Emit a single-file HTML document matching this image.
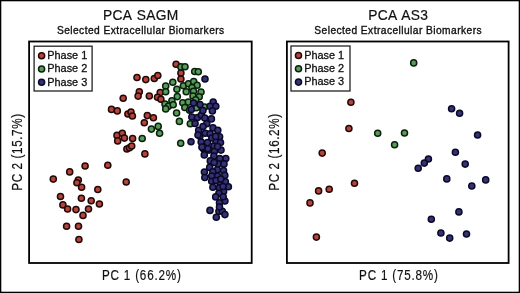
<!DOCTYPE html>
<html><head><meta charset="utf-8">
<style>
html,body{margin:0;padding:0;background:#fff;}
body{width:520px;height:293px;overflow:hidden;}
svg{display:block;will-change:transform;}
text{font-family:"Liberation Sans",sans-serif;fill:#111;stroke:#111;stroke-width:0.2px;}
</style></head><body>
<svg width="520" height="293" viewBox="0 0 520 293">
<rect x="0.65" y="0.65" width="518.7" height="291.7" fill="#fff" stroke="#000" stroke-width="1.3"/>
<text x="140.8" y="20.4" font-size="13.8" text-anchor="middle" letter-spacing="0.3" word-spacing="1">PCA SAGM</text>
<text x="140.8" y="33.8" font-size="10.2" text-anchor="middle" letter-spacing="0.45" style="stroke-width:0.35px">Selected Extracellular Biomarkers</text>
<text x="398.2" y="20.4" font-size="13.8" text-anchor="middle" letter-spacing="0.3" word-spacing="1">PCA AS3</text>
<text x="398.2" y="33.8" font-size="10.2" text-anchor="middle" letter-spacing="0.45" style="stroke-width:0.35px">Selected Extracellular Biomarkers</text>
<rect x="29.1" y="41.5" width="222.6" height="221.5" fill="none" stroke="#000" stroke-width="1.8"/>
<rect x="286.9" y="41.5" width="221.7" height="221.5" fill="none" stroke="#000" stroke-width="1.8"/>
<text transform="translate(141.8,280.3) scale(0.8,1)" font-size="14.6" letter-spacing="1" text-anchor="middle">PC 1 (66.2%)</text>
<text transform="translate(398.9,280.3) scale(0.8,1)" font-size="14.6" letter-spacing="1" text-anchor="middle">PC 1 (75.8%)</text>
<text transform="translate(21.7,152.0) rotate(-90) scale(0.76,1)" font-size="15.4" letter-spacing="0.8" text-anchor="middle">PC 2 (15.7%)</text>
<text transform="translate(279.4,152.0) rotate(-90) scale(0.76,1)" font-size="15.4" letter-spacing="0.8" text-anchor="middle">PC 2 (16.2%)</text>
<g fill="#b5443a" stroke="#220808" stroke-width="1.5">
<circle cx="85.1" cy="166.0" r="3.05"/>
<circle cx="69.7" cy="171.9" r="3.05"/>
<circle cx="53.3" cy="179.1" r="3.05"/>
<circle cx="78.3" cy="180.1" r="3.05"/>
<circle cx="76.9" cy="182.8" r="3.05"/>
<circle cx="81.6" cy="187.3" r="3.05"/>
<circle cx="97.8" cy="189.5" r="3.05"/>
<circle cx="60.5" cy="196.5" r="3.05"/>
<circle cx="81.4" cy="198.3" r="3.05"/>
<circle cx="91.2" cy="200.8" r="3.05"/>
<circle cx="62.9" cy="204.9" r="3.05"/>
<circle cx="99.4" cy="204.0" r="3.05"/>
<circle cx="67.6" cy="209.0" r="3.05"/>
<circle cx="76.0" cy="209.6" r="3.05"/>
<circle cx="88.5" cy="209.0" r="3.05"/>
<circle cx="83.0" cy="215.4" r="3.05"/>
<circle cx="66.6" cy="226.2" r="3.05"/>
<circle cx="78.5" cy="226.2" r="3.05"/>
<circle cx="78.9" cy="239.5" r="3.05"/>
<circle cx="107.8" cy="165.2" r="3.05"/>
<circle cx="126.2" cy="182.0" r="3.05"/>
<circle cx="144.9" cy="153.9" r="3.05"/>
<circle cx="126.9" cy="149.0" r="3.05"/>
<circle cx="129.5" cy="147.7" r="3.05"/>
<circle cx="131.7" cy="146.0" r="3.05"/>
<circle cx="117.0" cy="135.4" r="3.05"/>
<circle cx="122.3" cy="133.2" r="3.05"/>
<circle cx="124.4" cy="138.1" r="3.05"/>
<circle cx="117.7" cy="140.9" r="3.05"/>
<circle cx="132.6" cy="138.5" r="3.05"/>
<circle cx="144.3" cy="122.8" r="3.05"/>
<circle cx="153.4" cy="117.8" r="3.05"/>
<circle cx="147.3" cy="115.6" r="3.05"/>
<circle cx="111.5" cy="109.4" r="3.05"/>
<circle cx="117.3" cy="110.9" r="3.05"/>
<circle cx="127.9" cy="114.0" r="3.05"/>
<circle cx="131.0" cy="112.1" r="3.05"/>
<circle cx="132.4" cy="116.0" r="3.05"/>
<circle cx="123.2" cy="98.2" r="3.05"/>
<circle cx="139.3" cy="91.8" r="3.05"/>
<circle cx="138.1" cy="96.1" r="3.05"/>
<circle cx="149.3" cy="96.0" r="3.05"/>
<circle cx="137.0" cy="77.5" r="3.05"/>
<circle cx="145.8" cy="79.6" r="3.05"/>
<circle cx="154.3" cy="78.5" r="3.05"/>
<circle cx="157.8" cy="75.5" r="3.05"/>
<circle cx="160.2" cy="92.6" r="3.05"/>
<circle cx="157.5" cy="97.3" r="3.05"/>
<circle cx="160.9" cy="99.3" r="3.05"/>
<circle cx="176.1" cy="64.3" r="3.05"/>
<circle cx="180.9" cy="73.1" r="3.05"/>
<circle cx="180.9" cy="79.0" r="3.05"/>
</g>
<g fill="#589c5c" stroke="#0a200c" stroke-width="1.5">
<circle cx="180.9" cy="66.9" r="3.05"/>
<circle cx="185.0" cy="66.7" r="3.05"/>
<circle cx="194.7" cy="71.5" r="3.05"/>
<circle cx="198.3" cy="71.8" r="3.05"/>
<circle cx="172.8" cy="82.3" r="3.05"/>
<circle cx="165.7" cy="86.1" r="3.05"/>
<circle cx="165.7" cy="91.7" r="3.05"/>
<circle cx="176.9" cy="89.2" r="3.05"/>
<circle cx="183.4" cy="85.7" r="3.05"/>
<circle cx="188.5" cy="83.7" r="3.05"/>
<circle cx="193.7" cy="81.6" r="3.05"/>
<circle cx="197.1" cy="85.3" r="3.05"/>
<circle cx="192.0" cy="87.5" r="3.05"/>
<circle cx="186.2" cy="91.8" r="3.05"/>
<circle cx="201.0" cy="92.0" r="3.05"/>
<circle cx="193.5" cy="91.3" r="3.05"/>
<circle cx="193.0" cy="96.0" r="3.05"/>
<circle cx="199.2" cy="96.7" r="3.05"/>
<circle cx="177.3" cy="96.6" r="3.05"/>
<circle cx="171.9" cy="100.7" r="3.05"/>
<circle cx="165.0" cy="104.1" r="3.05"/>
<circle cx="168.4" cy="106.2" r="3.05"/>
<circle cx="173.2" cy="104.8" r="3.05"/>
<circle cx="165.7" cy="108.9" r="3.05"/>
<circle cx="176.6" cy="113.0" r="3.05"/>
<circle cx="182.8" cy="102.8" r="3.05"/>
<circle cx="188.3" cy="102.1" r="3.05"/>
<circle cx="184.8" cy="107.5" r="3.05"/>
<circle cx="189.6" cy="110.3" r="3.05"/>
<circle cx="196.3" cy="107.7" r="3.05"/>
<circle cx="204.6" cy="107.0" r="3.05"/>
<circle cx="195.7" cy="99.8" r="3.05"/>
<circle cx="179.4" cy="121.4" r="3.05"/>
<circle cx="190.3" cy="123.7" r="3.05"/>
<circle cx="158.2" cy="126.4" r="3.05"/>
<circle cx="151.4" cy="129.1" r="3.05"/>
<circle cx="159.6" cy="133.2" r="3.05"/>
<circle cx="142.2" cy="138.5" r="3.05"/>
<circle cx="180.7" cy="143.3" r="3.05"/>
</g>
<g fill="#343276" stroke="#0b0926" stroke-width="1.5">
<circle cx="205.0" cy="79.0" r="3.05"/>
<circle cx="193.6" cy="103.0" r="3.05"/>
<circle cx="200.0" cy="104.6" r="3.05"/>
<circle cx="191.3" cy="109.4" r="3.05"/>
<circle cx="191.8" cy="117.0" r="3.05"/>
<circle cx="197.5" cy="117.5" r="3.05"/>
<circle cx="195.1" cy="123.5" r="3.05"/>
<circle cx="213.2" cy="102.0" r="3.05"/>
<circle cx="210.0" cy="106.2" r="3.05"/>
<circle cx="215.8" cy="106.2" r="3.05"/>
<circle cx="212.4" cy="110.9" r="3.05"/>
<circle cx="201.4" cy="115.1" r="3.05"/>
<circle cx="204.8" cy="118.0" r="3.05"/>
<circle cx="211.4" cy="118.9" r="3.05"/>
<circle cx="206.8" cy="123.7" r="3.05"/>
<circle cx="202.9" cy="110.6" r="3.05"/>
<circle cx="213.0" cy="127.9" r="3.05"/>
<circle cx="217.8" cy="130.3" r="3.05"/>
<circle cx="198.7" cy="130.3" r="3.05"/>
<circle cx="205.3" cy="133.3" r="3.05"/>
<circle cx="210.1" cy="133.9" r="3.05"/>
<circle cx="199.9" cy="136.3" r="3.05"/>
<circle cx="211.8" cy="138.0" r="3.05"/>
<circle cx="219.6" cy="136.8" r="3.05"/>
<circle cx="191.0" cy="141.7" r="3.05"/>
<circle cx="201.2" cy="142.0" r="3.05"/>
<circle cx="207.5" cy="142.6" r="3.05"/>
<circle cx="216.0" cy="142.0" r="3.05"/>
<circle cx="220.5" cy="142.5" r="3.05"/>
<circle cx="213.9" cy="146.0" r="3.05"/>
<circle cx="203.7" cy="149.0" r="3.05"/>
<circle cx="209.1" cy="150.1" r="3.05"/>
<circle cx="214.5" cy="151.3" r="3.05"/>
<circle cx="221.0" cy="150.1" r="3.05"/>
<circle cx="204.3" cy="154.9" r="3.05"/>
<circle cx="213.9" cy="156.1" r="3.05"/>
<circle cx="225.8" cy="158.5" r="3.05"/>
<circle cx="219.8" cy="158.5" r="3.05"/>
<circle cx="210.3" cy="160.9" r="3.05"/>
<circle cx="218.0" cy="163.9" r="3.05"/>
<circle cx="224.0" cy="163.9" r="3.05"/>
<circle cx="209.7" cy="167.4" r="3.05"/>
<circle cx="217.4" cy="169.8" r="3.05"/>
<circle cx="204.4" cy="172.0" r="3.05"/>
<circle cx="223.5" cy="170.5" r="3.05"/>
<circle cx="212.8" cy="171.7" r="3.05"/>
<circle cx="211.7" cy="176.0" r="3.05"/>
<circle cx="217.7" cy="176.0" r="3.05"/>
<circle cx="224.8" cy="175.4" r="3.05"/>
<circle cx="211.7" cy="181.3" r="3.05"/>
<circle cx="220.1" cy="183.7" r="3.05"/>
<circle cx="225.4" cy="181.9" r="3.05"/>
<circle cx="212.9" cy="187.3" r="3.05"/>
<circle cx="219.5" cy="187.9" r="3.05"/>
<circle cx="228.4" cy="186.7" r="3.05"/>
<circle cx="223.6" cy="191.5" r="3.05"/>
<circle cx="218.9" cy="193.3" r="3.05"/>
<circle cx="215.7" cy="196.9" r="3.05"/>
<circle cx="224.9" cy="201.0" r="3.05"/>
<circle cx="219.5" cy="202.8" r="3.05"/>
<circle cx="223.2" cy="196.7" r="3.05"/>
<circle cx="210.0" cy="210.4" r="3.05"/>
<circle cx="218.9" cy="211.2" r="3.05"/>
<circle cx="222.3" cy="211.2" r="3.05"/>
<circle cx="224.9" cy="214.6" r="3.05"/>
<circle cx="216.3" cy="217.2" r="3.05"/>
<circle cx="198.0" cy="135.0" r="3.05"/>
<circle cx="202.3" cy="147.6" r="3.05"/>
<circle cx="207.9" cy="148.7" r="3.05"/>
<circle cx="217.6" cy="146.6" r="3.05"/>
<circle cx="215.6" cy="136.4" r="3.05"/>
<circle cx="202.0" cy="147.0" r="3.05"/>
<circle cx="216.0" cy="180.5" r="3.05"/>
<circle cx="223.0" cy="186.5" r="3.05"/>
<circle cx="219.5" cy="207.0" r="3.05"/>
<circle cx="203.0" cy="126.5" r="3.05"/>
<circle cx="214.2" cy="162.5" r="3.05"/>
<circle cx="220.8" cy="179.0" r="3.05"/>
<circle cx="204.8" cy="177.5" r="3.05"/>
</g>
<g fill="#b5443a" stroke="#220808" stroke-width="1.5">
<circle cx="350.9" cy="102.3" r="3.05"/>
<circle cx="348.9" cy="128.5" r="3.05"/>
<circle cx="322.2" cy="153.1" r="3.05"/>
<circle cx="354.5" cy="183.3" r="3.05"/>
<circle cx="318.6" cy="190.9" r="3.05"/>
<circle cx="329.2" cy="189.2" r="3.05"/>
<circle cx="310.0" cy="202.9" r="3.05"/>
<circle cx="316.4" cy="237.1" r="3.05"/>
</g>
<g fill="#589c5c" stroke="#0a200c" stroke-width="1.5">
<circle cx="413.7" cy="62.9" r="3.05"/>
<circle cx="377.7" cy="133.3" r="3.05"/>
<circle cx="404.5" cy="133.0" r="3.05"/>
<circle cx="394.6" cy="144.8" r="3.05"/>
</g>
<g fill="#343276" stroke="#0b0926" stroke-width="1.5">
<circle cx="451.6" cy="108.7" r="3.05"/>
<circle cx="459.6" cy="113.3" r="3.05"/>
<circle cx="477.6" cy="135.0" r="3.05"/>
<circle cx="455.4" cy="152.3" r="3.05"/>
<circle cx="465.2" cy="164.1" r="3.05"/>
<circle cx="428.4" cy="159.0" r="3.05"/>
<circle cx="424.3" cy="163.1" r="3.05"/>
<circle cx="418.2" cy="168.2" r="3.05"/>
<circle cx="446.8" cy="178.9" r="3.05"/>
<circle cx="471.8" cy="186.0" r="3.05"/>
<circle cx="485.7" cy="179.9" r="3.05"/>
<circle cx="458.9" cy="211.9" r="3.05"/>
<circle cx="431.3" cy="219.3" r="3.05"/>
<circle cx="440.9" cy="233.0" r="3.05"/>
<circle cx="449.7" cy="238.1" r="3.05"/>
<circle cx="466.5" cy="234.0" r="3.05"/>
</g>
<rect x="34.1" y="46.2" width="58.0" height="44.8" fill="#fff" stroke="#222" stroke-width="1.3"/>
<circle cx="41.6" cy="55.7" r="3.05" fill="#b5443a" stroke="#220808" stroke-width="1.5"/>
<text x="47.3" y="58.9" font-size="10.9" style="stroke-width:0.3px">Phase 1</text>
<circle cx="41.6" cy="69.0" r="3.05" fill="#589c5c" stroke="#0a200c" stroke-width="1.5"/>
<text x="47.3" y="72.2" font-size="10.9" style="stroke-width:0.3px">Phase 2</text>
<circle cx="41.6" cy="82.3" r="3.05" fill="#343276" stroke="#0b0926" stroke-width="1.5"/>
<text x="47.3" y="85.5" font-size="10.9" style="stroke-width:0.3px">Phase 3</text>
<rect x="291.0" y="46.0" width="59.0" height="45.0" fill="#fff" stroke="#222" stroke-width="1.3"/>
<circle cx="298.5" cy="55.5" r="3.05" fill="#b5443a" stroke="#220808" stroke-width="1.5"/>
<text x="304.2" y="58.7" font-size="10.9" style="stroke-width:0.3px">Phase 1</text>
<circle cx="298.5" cy="68.8" r="3.05" fill="#589c5c" stroke="#0a200c" stroke-width="1.5"/>
<text x="304.2" y="72.0" font-size="10.9" style="stroke-width:0.3px">Phase 2</text>
<circle cx="298.5" cy="82.1" r="3.05" fill="#343276" stroke="#0b0926" stroke-width="1.5"/>
<text x="304.2" y="85.3" font-size="10.9" style="stroke-width:0.3px">Phase 3</text>
</svg>
</body></html>
